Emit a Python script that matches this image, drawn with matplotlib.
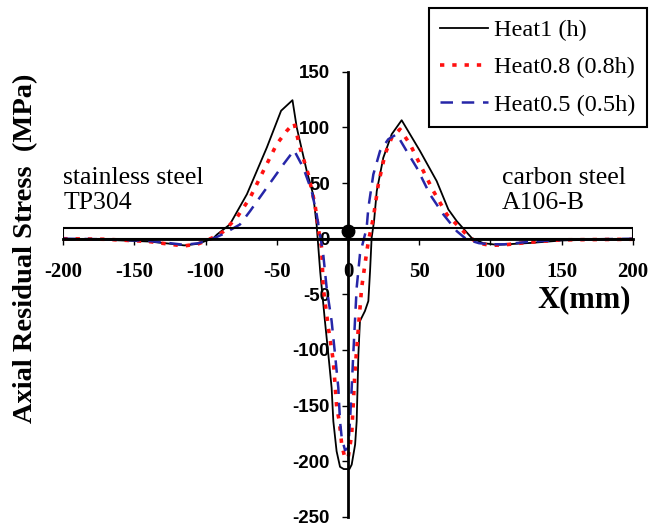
import matplotlib
matplotlib.use("Agg")
import matplotlib.pyplot as plt
from matplotlib.patches import Rectangle

plt.rcParams["axes.unicode_minus"] = False

# distance from weld centre (mm) and axial residual stress (MPa)
x_h = [-200, -170, -140, -125, -115, -105, -100, -95, -92, -83, -71, -57, -47, -39,
       -36, -29, -24.5, -22, -21, -19.5, -18, -16.2, -13.8, -11.5, -10.3, -8, -5.6, -3,
       1, 2.6, 5, 6.1, 7.3, 8.4, 11.9, 14.3, 15.5, 16.6, 18.3, 20.2, 24.8, 30.7, 37.7,
       50.6, 62.3, 70.5, 76.4, 86.9, 95, 105, 128, 151, 170, 200]
y_h = [-1, -1, -2.5, -4.5, -6, -4.5, -2, 0, 3.8, 12.8, 40, 82, 115, 124.5,
       100, 61, 40, 12, -5, -30, -50, -74, -104, -134, -164, -191, -205, -207,
       -207, -203, -185, -164, -104, -74, -65, -56, -29, 0.7, 15.8, 42.8, 72.8, 93.9, 106.5,
       78.8, 51.8, 26.3, 15.8, 0.7, -4, -5.5, -3.8, -1.5, -1, -1]

x_08 = [-200, -170, -140, -125, -115, -105, -100, -95, -88, -78.2, -68.8, -59.5, -50.1,
        -43.1, -37.9, -33.7, -27.9, -23.2, -20.9, -18.5, -17.4, -13.8, -10.3, -7.9, -6.1,
        -4.4, -2.1, 0.2, 2.6, 3.3, 4.9, 7.3, 9.6, 11.9, 14.3, 17.8, 21.3, 26, 30.7, 36.5,
        43.6, 50.6, 60, 69.4, 78.7, 85.7, 92, 100, 110, 125, 150, 200]
y_08 = [0, -0.5, -2.5, -5, -6.5, -4.5, -2, 1, 6, 18.8, 36.8, 60.8, 84.9,
        96.8, 104, 81.8, 57.8, 30.8, 9.7, -8.3, -44, -80, -110, -152, -164,
        -185, -197.5, -196, -176, -158, -119, -80, -44, -23, -2.3, 18.8, 48.8, 75.9, 90.8, 98.4,
        84.9, 66.8, 42.8, 21.8, 9.7, 0.7, -4, -6, -5.5, -3.5, -1, -0.5]

x_05 = [-200, -170, -140, -125, -115, -105, -100, -95, -88, -75.9, -68.8, -57.1, -45.4,
        -37.9, -31.4, -25.5, -22, -19.7, -17.4, -15, -11.5, -9.1, -6.8, -5.6, -4.4, -2.1,
        0.2, 1.4, 2.6, 3.7, 4.9, 6.1, 8.4, 10.8, 13.1, 14.3, 17.8, 22.5, 28.3, 34.2, 41.2,
        48.3, 57.6, 67, 76.4, 83.4, 92, 100, 110, 125, 150, 200]
y_05 = [0, -0.5, -2, -4, -5.5, -4, -2, 0, 4, 12.8, 24.8, 45.8, 66.8,
        79.5, 63.8, 42.8, 21.8, 3.8, -14, -44, -74, -104, -134, -164, -179, -190,
        -188, -164, -134, -104, -74, -44, -14, -2, 9.7, 27.8, 57.8, 78.8, 89.4, 93.9, 78.8,
        63.8, 39.8, 21.8, 6.8, -0.7, -4, -5, -5, -3, -1, 0]

xticks = [-200, -150, -100, -50, 0, 50, 100, 150, 200]
yticks = [-250, -200, -150, -100, -50, 0, 50, 100, 150]

serif = "Liberation Serif"
sans = "Liberation Sans"

fig = plt.figure(figsize=(6.49, 5.28), dpi=100)
ax = fig.add_axes([0.0975, 0.021, 0.8774, 0.843])

ax.plot(x_h, y_h, color="black", lw=1.3, label="Heat1 (h)")
ax.plot(x_08, y_08, color="#ff1010", lw=2.6, linestyle=(0, (1.2, 2.2)), label="Heat0.8 (0.8h)")
ax.plot(x_05, y_05, color="#2626a8", lw=1.8, linestyle=(0, (5, 3.5)), label="Heat0.5 (0.5h)")

# pipe wall strip and weld centre marker
ax.add_patch(Rectangle((-200, 0), 400, 10, fill=False, edgecolor="black", lw=1.5, zorder=3))
ax.plot(0, 7, "o", color="black", ms=9, zorder=4)

ax.set_xlim(-200, 200)
ax.set_ylim(-250, 150)
ax.spines["left"].set_position(("data", 0))
ax.spines["bottom"].set_position(("data", 0))
ax.spines["top"].set_visible(False)
ax.spines["right"].set_visible(False)
ax.spines["left"].set_linewidth(2)
ax.spines["bottom"].set_linewidth(2)
ax.spines["left"].set_zorder(5)

ax.set_xticks(xticks)
ax.set_yticks(yticks)
ax.tick_params(axis="x", direction="out", length=4, width=1, pad=13)
ax.tick_params(axis="y", direction="out", length=4, width=1, pad=9)
for lab in ax.get_xticklabels():
    lab.set_fontfamily(serif)
    lab.set_fontweight("bold")
    lab.set_fontsize(15)
for lab in ax.get_yticklabels():
    lab.set_fontfamily(sans)
    lab.set_fontweight("bold")
    lab.set_fontsize(13.5)

fig.text(0.039, 0.53, "Axial Residual Stress  (MPa)", rotation=90, ha="center", va="center",
         family=serif, weight="bold", fontsize=20.5)
fig.text(0.9, 0.432, "X(mm)", ha="center", va="center", family=serif, weight="bold", fontsize=22)

ax.text(-200, 22, "stainless steel\nTP304", ha="left", va="bottom",
        family=serif, fontsize=18.5, linespacing=1.2)
ax.text(108, 22, "carbon steel\nA106-B", ha="left", va="bottom",
        family=serif, fontsize=18.5, linespacing=1.2)

leg = ax.legend(loc="upper right", bbox_to_anchor=(0.9965, 0.984), bbox_transform=fig.transFigure,
                borderaxespad=0, fancybox=False, framealpha=1, edgecolor="black",
                prop={"family": serif, "size": 17.5}, handlelength=2.0, handletextpad=0.25,
                labelspacing=0.62, borderpad=0.45)
leg.get_frame().set_linewidth(1.5)

fig.savefig("out.png", dpi=100)
